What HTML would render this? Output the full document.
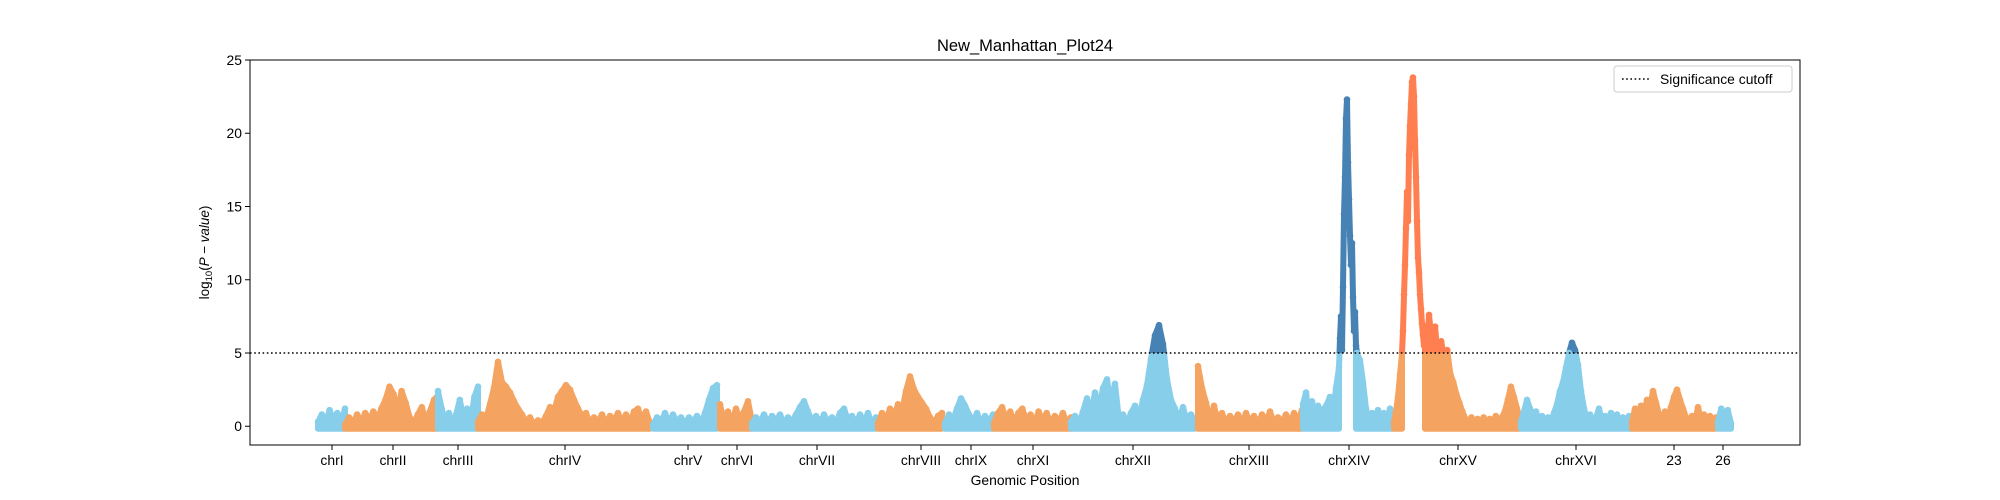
<!DOCTYPE html>
<html><head><meta charset="utf-8"><style>
html,body{margin:0;padding:0;background:#fff;}
svg{display:block;font-family:"Liberation Sans","DejaVu Sans",sans-serif;}
</style></head><body>
<svg id="chart" width="2000" height="500" viewBox="0 0 2000 500" xmlns="http://www.w3.org/2000/svg">
<defs>
<clipPath id="clipLow"><rect x="0" y="353.3" width="2000" height="200"/></clipPath>
<clipPath id="clipHigh"><rect x="0" y="0" width="2000" height="353.3"/></clipPath>
</defs>
<rect x="0" y="0" width="2000" height="500" fill="#fff"/>
<text x="1025" y="51" text-anchor="middle" font-size="16.5" fill="#000">New_Manhattan_Plot24</text>
<g id="plot"></g>
<g id="axes"></g>
<text transform="translate(209,252.5) rotate(-90)" text-anchor="middle" font-size="13.5" fill="#000">log<tspan font-size="9.5" dy="3">10</tspan><tspan dy="-3">(</tspan><tspan font-style="italic">P − value</tspan>)</text>
<text x="1025" y="485" text-anchor="middle" font-size="13.9" fill="#000">Genomic Position</text>
<g>
<rect x="1614" y="66" width="178" height="26" rx="3" fill="#fff" fill-opacity="0.8" stroke="#ccc" stroke-width="1"/>
<line x1="1622" y1="79" x2="1650" y2="79" stroke="#000" stroke-width="1.6" stroke-dasharray="1.6,2.6"/>
<text x="1660" y="84" font-size="13.9" fill="#000">Significance cutoff</text>
</g>
</svg>
<script>
// axis domains
const xDomain = [0, 1550];
const yDomain = [-1.28, 25];
const yTicks = [0, 5, 10, 15, 20, 25];
const cutoff = 5;
const tickLabels = ["chrI","chrII","chrIII","chrIV","chrV","chrVI","chrVII","chrVIII","chrIX","chrXI","chrXII","chrXIII","chrXIV","chrXV","chrXVI","23","26"];
const tickPositions = [82,143,208,315,438,487,567,671,721,783,883,999,1099,1208,1326,1424,1473];
// data blocks: chromosome index, start, end (genomic units), values
const blockChrom = [0,1,2,3,4,5,6,7,8,9,10,11,12,12,12,13,13,13,14,15,16];
const blockStart = [68,95,188,228,403,470,502,628,695,744,821,948,1053,1090,1107,1144,1153,1176,1271,1382,1468];
const blockEnd =   [95,188,228,400,467,502,626,692,743,821,945,1052,1089,1106,1143,1152,1175,1270,1382,1466,1481];
const v0 = [0.3,0.8,0.2,1.1,0.4,0.9,0.2,1.2];
const v1 = [0.1,0.6,0.2,0.8,0.3,0.9,0.4,1.0,0.5,1.2,1.8,2.7,2.2,1.0,2.4,1.6,0.6,0.2,0.8,1.3,0.3,1.0,1.8,2.1];
const v2 = [2.4,1.2,0.3,0.9,0.2,0.8,1.8,0.5,1.2,0.3,2.0,2.7];
const v3 = [0.3,0.8,0.5,1.5,2.6,4.4,3.0,2.7,2.3,1.7,1.2,0.8,0.3,0.6,0.1,0.4,0.2,0.7,1.3,1.0,2.0,2.4,2.8,2.5,1.8,1.2,0.7,0.9,0.2,0.6,0.3,0.8,0.2,0.7,0.4,0.9,0.3,0.8,0.2,1.0,1.2,0.4,1.0,0.2];
const v4 = [0.1,0.6,0.3,0.9,0.2,0.8,0.3,0.6,0.2,0.6,0.3,0.7,0.2,0.9,1.8,2.6,2.8];
const v5 = [1.5,0.3,1.0,0.2,1.2,0.4,1.0,1.7,0.3];
const v6 = [0.2,0.6,0.3,0.8,0.2,0.7,0.4,0.8,0.2,0.6,0.3,0.8,1.3,1.7,1.0,0.3,0.7,0.2,0.8,0.3,0.6,0.2,0.9,1.2,0.4,0.7,0.2,0.8,0.3,0.9,0.2,0.6];
const v7 = [0.2,0.9,0.4,1.2,0.6,1.5,1.0,2.4,3.4,2.5,2.0,1.6,1.2,0.6,0.2,0.7,0.9];
const v8 = [0.2,0.8,0.4,1.2,1.9,1.4,0.8,0.3,0.9,0.2,0.7,0.3,0.8];
const v9 = [0.2,0.9,1.3,0.4,1.0,0.2,0.9,1.2,0.3,0.8,0.2,1.0,0.4,0.9,0.2,0.7,0.3,0.9,0.2,0.6];
const v10 = [0.3,0.7,0.2,1.0,1.9,0.8,2.3,1.2,2.6,3.2,1.5,2.9,0.4,0.8,0.2,0.9,1.4,0.5,1.8,2.8,4.6,6.2,6.9,5.6,3.2,1.8,1.2,0.4,1.3,0.3,0.8,0.3];
const v11 = [4.1,2.6,1.6,0.4,1.4,0.3,0.9,0.2,0.7,0.3,0.8,0.2,0.9,0.3,0.7,0.2,0.8,0.3,1.0,0.2,0.6,0.3,0.8,0.2,0.9,0.3,1.1];
const v12a = [1.5,2.3,0.7,1.7,0.4,1.4,0.3,1.2,1.5,2.0,0.8,2.6,4.0];
const v12b = [6.0,7.5,5.2,9.5,14.5,17.0,21.0,22.3,18.0,15.5,13.0,11.0,12.5,8.8,6.5,7.8,5.5];
const v12c = [5.0,4.5,3.0,1.2,0.2,0.9,0.3,1.1,0.4,0.9,0.2,1.2,0.3];
const v13a = [0.3,1.0,2.0,3.5,5.0];
const v13b = [6.5,9.0,11.0,13.5,16.0,14.0,18.5,20.5,22.0,23.5,23.8,22.5,19.5,17.0,14.0,11.5,10.5,9.0,8.0,7.0,6.2,5.5,6.8];
const v13c = [4.5,7.6,5.5,6.8,4.2,5.8,4.6,5.2,3.6,3.0,2.2,1.6,1.0,0.5,0.3,0.6,0.1,0.5,0.2,0.6,0.1,0.5,0.3,0.7,0.2,0.6,1.0,1.8,2.7,2.0,1.2,0.4];
const v14 = [0.3,1.0,1.8,1.2,0.4,1.0,0.2,0.7,0.2,0.6,0.3,0.9,1.5,2.4,3.0,4.0,5.0,5.7,5.2,4.2,2.4,1.2,0.4,0.8,0.2,0.6,1.2,0.3,0.7,0.2,0.9,0.3,0.8,0.2,0.6,0.3,0.7,0.2];
const v15 = [0.3,1.2,0.6,1.4,0.9,1.8,1.3,2.4,1.6,0.8,0.4,1.0,0.5,1.3,2.0,2.5,1.8,1.2,0.6,0.2,0.7,0.3,1.3,0.4,0.8,0.2,0.7,0.3,0.6];
const v16 = [0.3,1.2,0.5,1.1,0.2];
const blockValues = [v0,v1,v2,v3,v4,v5,v6,v7,v8,v9,v10,v11,v12a,v12b,v12c,v13a,v13b,v13c,v14,v15,v16];

const NS = "http://www.w3.org/2000/svg";
const PL = 250, PR = 1800, PT = 60, PB = 445;
function xs(v){ return PL + (v - xDomain[0]) / (xDomain[1] - xDomain[0]) * (PR - PL); }
function ys(v){ return PB - (v - yDomain[0]) / (yDomain[1] - yDomain[0]) * (PB - PT); }
function mk(tag, attrs, parent){
  const e = document.createElementNS(NS, tag);
  for (const k in attrs) e.setAttribute(k, attrs[k]);
  parent.appendChild(e);
  return e;
}
document.querySelector('#clipLow rect').setAttribute('y', ys(cutoff));
document.querySelector('#clipHigh rect').setAttribute('height', ys(cutoff));
const COLORS = [["#87CEEB","#4682B4"],["#F4A460","#FF7F50"]];
const plot = document.getElementById("plot");
const axes = document.getElementById("axes");

// series
let prevLast = null;
for (let b = 0; b < blockValues.length; b++){
  const vals = blockValues[b];
  const ci = blockChrom[b] % 2;
  const n = vals.length;
  let pts = vals.map((v,i)=>[blockStart[b] + (n>1 ? i*(blockEnd[b]-blockStart[b])/(n-1) : 0), v]);
  const own = pts.slice();
  if (b > 0 && blockChrom[b-1] === blockChrom[b] && prevLast) pts = [prevLast].concat(pts);
  prevLast = pts[pts.length-1];
  const g = mk("g", {}, plot);
  
  
  const tall = Math.max.apply(null, vals) >= 10;
  let d;
  if (!tall){
    const base = ys(0) + 2.5;
    d = "M" + xs(pts[0][0]) + "," + base;
    for (const [x,v] of pts) d += " L" + xs(x) + "," + ys(v);
    d += " L" + xs(pts[pts.length-1][0]) + "," + base + " Z";
  } else {
    d = "M" + xs(pts[0][0]) + "," + ys(pts[0][1]);
    for (const [x,v] of pts.slice(1)) d += " L" + xs(x) + "," + ys(v);
  }
  for (const sig of [0,1]){
    const ar = mk("path", {d:d, fill: tall ? "none" : COLORS[ci][sig], stroke:COLORS[ci][sig], "stroke-width":6, "stroke-linejoin":"round", "stroke-linecap":"round", "clip-path": sig ? "url(#clipHigh)" : "url(#clipLow)"}, g);
    
    
  }
  for (const [x,v] of own){
    const c = mk("circle", {cx:xs(x), cy:ys(v), r:3.3, fill:COLORS[ci][v>cutoff?1:0]}, g);
    
    
  }
}

// cutoff line
const cl = mk("line", {x1:PL, x2:PR, y1:ys(cutoff), y2:ys(cutoff), stroke:"#000", "stroke-width":1.6, "stroke-dasharray":"1.6,2.6"}, plot);



// frame
const fr = mk("rect", {x:PL, y:PT, width:PR-PL, height:PB-PT, fill:"none", stroke:"#000", "stroke-width":1}, axes);



// y ticks
for (const t of yTicks){
  const y = ys(t);
  const tk = mk("line", {x1:PL-5, x2:PL, y1:y, y2:y, stroke:"#000", "stroke-width":1}, axes);
  
  
  const tx = mk("text", {x:PL-8, y:y+5, "text-anchor":"end", "font-size":13.9, fill:"#000"}, axes);
  
  
  tx.textContent = String(t);
}
// x ticks
for (let i = 0; i < tickLabels.length; i++){
  const x = xs(tickPositions[i]);
  const tk = mk("line", {x1:x, x2:x, y1:PB, y2:PB+5, stroke:"#000", "stroke-width":1}, axes);
  
  
  const tx = mk("text", {x:x, y:PB+20, "text-anchor":"middle", "font-size":13.9, fill:"#000"}, axes);
  
  
  tx.textContent = tickLabels[i];
}
</script>
</body></html>
